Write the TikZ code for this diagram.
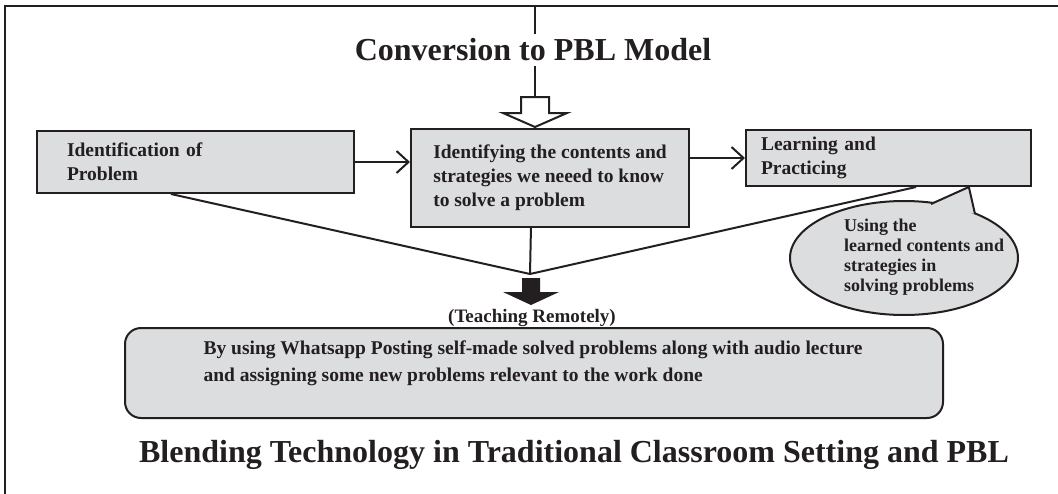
\documentclass[tikz,border=0pt]{standalone}
\usepackage{fontspec}
\setmainfont{Liberation Serif}
\usetikzlibrary{arrows.meta,shapes.geometric,calc}
\definecolor{boxgray}{HTML}{DCDDDF}
\definecolor{ink}{HTML}{231F20}
\begin{document}
\begin{tikzpicture}[x=1pt,y=-1pt,
  boxtxt/.style={font=\bfseries\fontsize{19.5}{24}\selectfont, text=ink},
  procbox/.style={boxtxt, draw=ink, fill=boxgray, line width=2pt, rectangle, align=left, inner ysep=0pt, anchor=north west},
  conn/.style={draw=ink, line width=2pt, line join=round},
  arr/.style={conn, -{Straight Barb[length=12pt,width=22pt]}},
  bigtitle/.style={font=\bfseries\fontsize{32}{36}\selectfont, text=ink},
]
\useasboundingbox (0,0) rectangle (1058,493);
\fill[white] (0,0) rectangle (1058,493);

% frame (top and left edges)
\draw[ink, line width=2.5pt] (1060,6) -- (5,6) -- (5,495);

% process boxes
\node[procbox, minimum width=317pt, minimum height=62pt, inner xsep=30pt, text width=257pt] (b1) at (36,130) {Identification of\\Problem};
\node[procbox, minimum width=278pt, minimum height=98pt, inner xsep=4pt] (b2) at (410,128) {Identifying the contents and\\strategies we neeed to know\\to solve a problem};
\node[procbox, minimum width=285pt, minimum height=56pt, inner xsep=15pt, text width=255pt] (b3) at (745,129) {Learning and\\Practicing};

% vertical line from top and hollow arrow
\coordinate (top) at (535,6);
\coordinate (hatop) at (535,97);
\draw[conn] (top) -- (hatop);
\draw[ink, line width=2pt, fill=white, line join=miter] (521,97) -- (549,97) -- (549,113) -- (567,113) -- (535,127) -- (503,113) -- (521,113) -- cycle;
\node[bigtitle, fill=white, inner xsep=2pt, inner ysep=5pt] (t1) at (533,50) {Conversion to PBL Model};

% horizontal arrows
\draw[arr] (b1.east) -- (b2.west |- b1.east);
\draw[arr] (b2.east |- b3.west) -- (b3.west);

% callout ellipse
\node[ellipse, draw=ink, fill=boxgray, line width=2pt, minimum width=228pt, minimum height=114pt, inner sep=0pt] (ell) at (904,258) {};
\coordinate (tip) at ($(b3.south west)!0.78!(b3.south east)$);
\coordinate (pl) at (931,204);
\coordinate (pr) at (975,214);
\fill[boxgray] (pl) -- (tip) -- (pr) -- cycle;
\draw[draw=ink, line width=2pt, line join=miter] (pl) -- (tip) -- (pr);
\node[font=\bfseries\fontsize{18}{20}\selectfont, text=ink, align=left] (ellt) at (924,257) {Using the\\learned contents and\\strategies in\\solving problems};

% converging lines
\coordinate (j) at (530,274);
\draw[conn] ($(b1.south west)!0.423!(b1.south east)$) -- (j) -- ($(b3.south west)!0.596!(b3.south east)$);
\draw[conn] ($(b2.south west)!0.432!(b2.south east)$) -- (j);

% black arrow
\fill[ink] (522,278) -- (540,278) -- (540,292) -- (559,292) -- (531,305) -- (503,292) -- (522,292) -- cycle;
\node[font=\bfseries\fontsize{19}{20}\selectfont, text=ink] (tr) at (532,318) {(Teaching Remotely)};

% bottom rounded box
\node[draw=ink, fill=boxgray, line width=2pt, rounded corners=16pt, minimum width=818pt, minimum height=90pt, anchor=north west] (b4) at (124,327) {};
\node[font=\bfseries\fontsize{19.5}{27}\selectfont, text=ink, align=left, anchor=west] (b4t) at (200,363.5) {By using Whatsapp Posting self-made solved problems along with audio lecture\\and assigning some new problems relevant to the work done};

% bottom title
\node[bigtitle] (t2) at (574,455) {Blending Technology in Traditional Classroom Setting and PBL};
\end{tikzpicture}
\end{document}
